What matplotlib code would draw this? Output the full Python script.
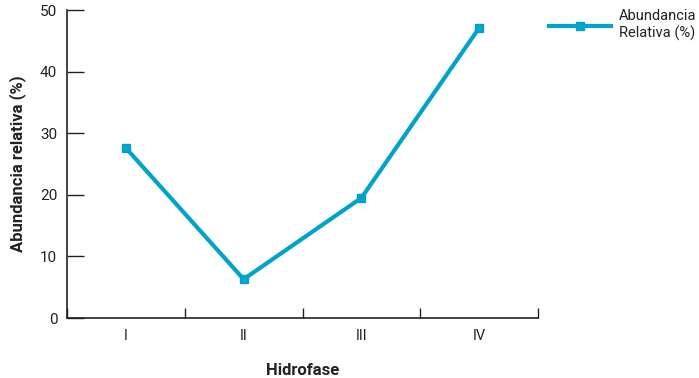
import matplotlib
matplotlib.use("Agg")
import matplotlib.pyplot as plt
from matplotlib.ticker import FixedLocator, NullFormatter, FixedFormatter

plt.rcParams['font.family'] = ['Roboto', 'DejaVu Sans']

hidrofases = ["I", "II", "III", "IV"]
abundancia = [27.6, 6.3, 19.5, 47.1]
y_ticks = [0, 10, 20, 30, 40, 50]

color = "#00A3CC"
ink = "#222222"

fig = plt.figure(figsize=(6.99, 3.78), dpi=100)
ax = fig.add_axes([0.0959, 0.1587, 0.6738, 0.8148])

x = list(range(1, len(hidrofases) + 1))
ax.plot(x, abundancia, color=color, lw=3, marker="s", ms=6,
        label="Abundancia\nRelativa (%)", solid_joinstyle="miter")

ax.set_xlim(0.5, len(hidrofases) + 0.5)
ax.set_ylim(0, 50)

# boundary ticks between phases, labels centred under each phase
ax.xaxis.set_major_locator(FixedLocator([i + 0.5 for i in range(len(hidrofases) + 1)]))
ax.xaxis.set_major_formatter(NullFormatter())
ax.xaxis.set_minor_locator(FixedLocator(x))
ax.xaxis.set_minor_formatter(FixedFormatter(hidrofases))
ax.tick_params(axis="x", which="major", direction="in", length=7, width=1, color=ink)
ax.tick_params(axis="x", which="minor", length=0, pad=8, labelsize=10.5, labelcolor=ink)

ax.set_yticks(y_ticks)
ax.tick_params(axis="y", direction="in", length=12, width=1, color=ink,
               labelsize=11, labelcolor=ink, pad=7)

for side in ("top", "right"):
    ax.spines[side].set_visible(False)
for side in ("left", "bottom"):
    ax.spines[side].set_color(ink)
    ax.spines[side].set_linewidth(1.2)

ax.set_xlabel("Hidrofase", fontsize=12, fontweight="bold", color=ink, labelpad=14)
ax.set_ylabel("Abundancia relativa (%)", fontsize=12, fontweight="bold", color=ink, labelpad=10)

ax.legend(loc="upper left", bbox_to_anchor=(0.995, 1.045), frameon=False,
          fontsize=10.5, handlelength=4.3, handletextpad=0.5, labelspacing=0.1,
          labelcolor=ink)

fig.savefig("out.png", dpi=100)
